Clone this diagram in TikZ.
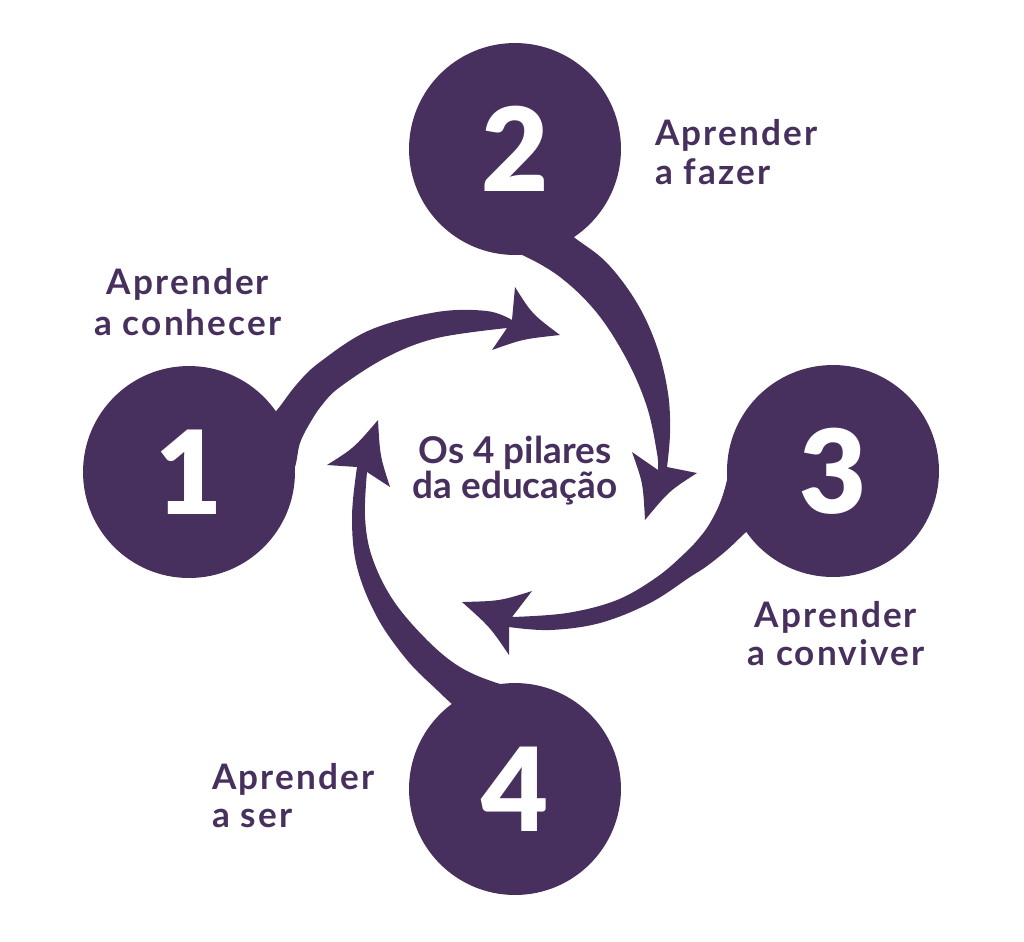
\documentclass[tikz,border=0pt]{standalone}
\usepackage{fontspec}
\setmainfont{Lato}
\newfontfamily\digitfont{Lato Black}
\newfontfamily\lblfont{Lato}[LetterSpace=6]
\definecolor{pur}{HTML}{47305E}
\begin{document}
\begin{tikzpicture}[x=0.02cm,y=-0.02cm,
  circ/.style={circle,fill=pur,minimum size=4.24cm,inner sep=0pt,text=white,font=\digitfont\fontsize{66}{70}\selectfont},
  lbl/.style={inner sep=0pt,text=pur,font=\lblfont\bfseries\fontsize{20}{24}\selectfont},
  ctr/.style={inner sep=0pt,text=pur,font=\bfseries\fontsize{21}{25}\selectfont},
  arr/.style={fill=pur}]
\useasboundingbox (0,0) rectangle (1024,941);
% arrow 1
\fill[arr] plot[smooth,tension=0.6] coordinates {(262,425) (277,410) (297,384) (320,362) (370,330) (437,312) (487,311) (512,320)}
  -- (515,287) .. controls (532,314) .. (560,335) .. controls (523,339) .. (492,350)
  -- plot[smooth,tension=0.6] coordinates {(507,328) (437,338) (387,357) (340,387) (322,405) (310,423) (300,443) (295,467) (285,490)} -- cycle;
% arrow 2
\fill[arr] plot[smooth,tension=0.6] coordinates {(555,222) (575,238) (607,263) (637,303) (657,347) (668,393) (670,433) (667,467)}
  -- (697,473) .. controls (669,491) .. (645,520) .. controls (643,483) .. (632,452)
  -- plot[smooth,tension=0.6] coordinates {(658,470) (657,453) (647,407) (627,360) (597,313) (560,277) (520,254) (495,248)} -- cycle;
% arrow 3
\fill[arr] plot[smooth,tension=0.6] coordinates {(767,513) (745,533) (727,550) (707,566) (690,577) (650,603) (600,623) (550,630) (509,627)}
  -- (509,655) .. controls (490,627) .. (462,602) .. controls (500,601) .. (532,591)
  -- plot[smooth,tension=0.6] coordinates {(512,617) (567,613) (617,600) (657,577) (685,553) (700,537) (710,523) (720,503) (727,480) (730,460) (740,445)} -- cycle;
% arrow 4
\fill[arr] plot[smooth,tension=0.6] coordinates {(470,720) (453,705) (437,690) (407,660) (377,617) (357,567) (352,517) (357,467)}
  -- (327,465) .. controls (354,448) .. (378,420) .. controls (380,456) .. (390,487)
  -- plot[smooth,tension=0.6] coordinates {(367,472) (365,517) (372,557) (393,600) (427,640) (460,667) (497,683) (530,690)} -- cycle;
% circles
\node[circ] (c1) at (189,472) {1};
\node[circ] (c2) at (515,149) {2};
\node[circ] (c3) at (833,471) {3};
\node[circ] (c4) at (515,789) {4};
% labels
\node[lbl,anchor=base] (l1a) at (188,294) {Aprender};
\node[lbl,anchor=base] (l1b) at (188,335) {a conhecer};
\node[lbl,anchor=base west] (l2a) at (655,145) {Aprender};
\node[lbl,anchor=base west] (l2b) at (655,184) {a fazer};
\node[lbl,anchor=base] (l3a) at (836,627) {Aprender};
\node[lbl,anchor=base] (l3b) at (836,665) {a conviver};
\node[lbl,anchor=base west] (l4a) at (212,789) {Aprender};
\node[lbl,anchor=base west] (l4b) at (212,827) {a ser};
\node[ctr,anchor=base] (t1) at (515,463) {Os 4 pilares};
\node[ctr,anchor=base] (t2) at (515,498) {da educação};
\end{tikzpicture}
\end{document}
